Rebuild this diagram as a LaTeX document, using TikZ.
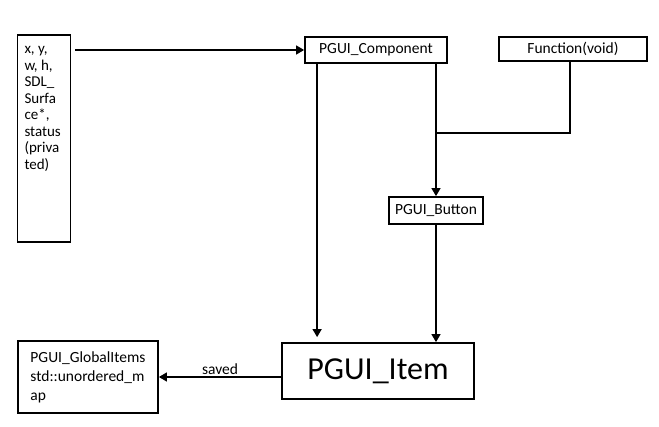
\documentclass[tikz,border=0pt]{standalone}
\usepackage{fontspec}
\setmainfont{Carlito}
\usetikzlibrary{arrows.meta}

\begin{document}
\begin{tikzpicture}[x=1pt,y=-1pt,
  box/.style={draw,line width=1.8pt,inner sep=0pt,font=\fontsize{15.5}{19}\selectfont},
  link/.style={line width=1.5pt},
  arr/.style={link,-{Triangle[length=8pt,width=9pt]}}]
\useasboundingbox (0,0) rectangle (659,427);
\node[box,minimum width=53pt,minimum height=207pt,inner sep=7pt] (fields) at (44,138.5)
  {\parbox[t][193pt][t]{39pt}{\fontsize{15}{16.5}\selectfont\raggedright\strut x, y,\\ w, h,\\ SDL\_\\ Surfa\\ ce*,\\ status\\ (priva\\ ted)}};
\node[box,minimum width=142pt,minimum height=26pt] (comp) at (376,50) {PGUI\_Component};
\node[box,minimum width=148pt,minimum height=24pt] (func) at (573,49) {Function(void)};
\node[box,minimum width=94pt,minimum height=27pt] (button) at (436,210.5) {PGUI\_Button};
\node[box,minimum width=192pt,minimum height=56pt,font=\fontsize{32}{38}\selectfont] (item) at (378,371) {PGUI\_Item};
\node[box,minimum width=140pt,minimum height=72pt,align=left] (global) at (88,377) {PGUI\_GlobalItems\\std::unordered\_m\\ap};
\coordinate (join) at (button.north |- 0,133);
\coordinate (drop) at ([xshift=13pt]comp.south west);
\draw[arr,shorten <=4pt] (fields.east |- comp.west) -- (comp.west);
\draw[arr,shorten >=5pt] (drop) -- (drop |- item.north);
\draw[arr] (comp.south -| button.north) -- (button.north);
\draw[link] ([xshift=-3pt]func.south) |- (join);
\draw[arr] (button.south) -- (button.south |- item.north);
\draw[arr] (item.west |- global.east) -- node[above,inner sep=1.5pt,font=\fontsize{15.5}{19}\selectfont] (savedlbl) {saved} (global.east);
\end{tikzpicture}
\end{document}
